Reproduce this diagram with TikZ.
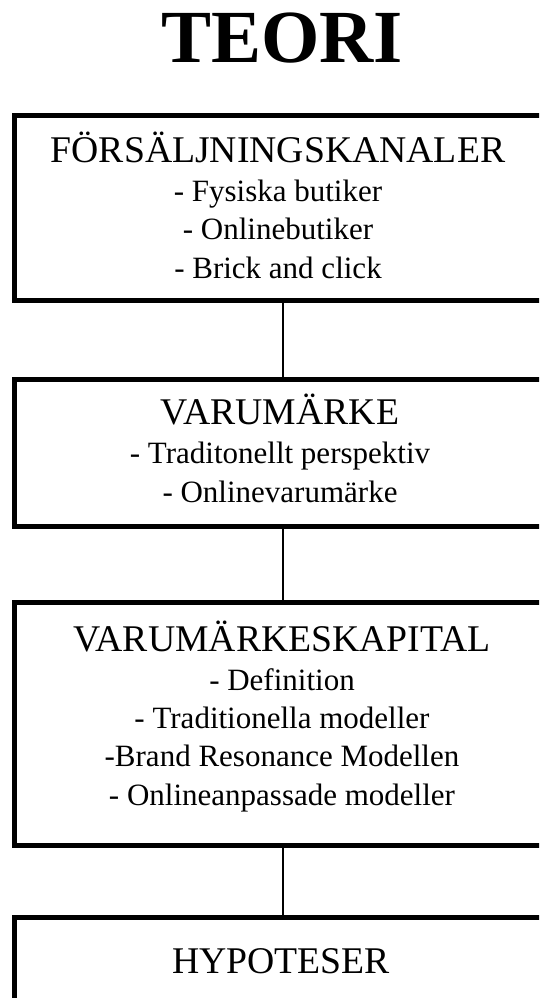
\documentclass[tikz,border=0pt]{standalone}
\usepackage{fontspec}
\setmainfont{Liberation Serif}

\begin{document}
\begin{tikzpicture}[x=1pt, y=-1pt,
  box/.style={draw, line width=5pt, minimum width=531pt, inner sep=0pt},
  head/.style={anchor=base, font=\fontsize{37.7}{40}\selectfont},
  item/.style={anchor=base, font=\fontsize{31}{36}\selectfont},
  link/.style={line width=2pt}]
  \useasboundingbox (0,0) rectangle (539,998);
  \clip (0,0) rectangle (539,998);
  \node[anchor=base, font=\bfseries\fontsize{75}{80}\selectfont] (title) at (282,63) {TEORI};
  \node[box, minimum height=185pt] (kanal) at (280,208) {};
  \node[box, minimum height=147.5pt] (varum) at (280,452.75) {};
  \node[box, minimum height=243.5pt] (kapital) at (280,723.75) {};
  \node[box, minimum height=113pt] (hypo) at (280,973.5) {};
  \node[head] (kanalH) at (278,162) {FÖRSÄLJNINGSKANALER};
  \node[item] (kanal1) at (278,201) {- Fysiska butiker};
  \node[item] (kanal2) at (278,239.5) {- Onlinebutiker};
  \node[item] (kanal3) at (278,278) {- Brick and click};
  \node[head] (varumH) at (280,424) {VARUMÄRKE};
  \node[item] (varum1) at (280,463.5) {- Traditonellt perspektiv};
  \node[item] (varum2) at (280,502) {- Onlinevarumärke};
  \node[head] (kapitalH) at (282,651) {VARUMÄRKESKAPITAL};
  \node[item] (kapital1) at (282,690) {- Definition};
  \node[item] (kapital2) at (282,728) {- Traditionella modeller};
  \node[item] (kapital3) at (282,766.5) {-Brand Resonance Modellen};
  \node[item] (kapital4) at (282,805) {- Onlineanpassade modeller};
  \node[head] (hypoH) at (281,973) {HYPOTESER};
  \draw[link] ([xshift=3pt]kanal.south) -- ([xshift=3pt]varum.north);
  \draw[link] ([xshift=3pt]varum.south) -- ([xshift=3pt]kapital.north);
  \draw[link] ([xshift=3pt]kapital.south) -- ([xshift=3pt]hypo.north);
\end{tikzpicture}
\end{document}
